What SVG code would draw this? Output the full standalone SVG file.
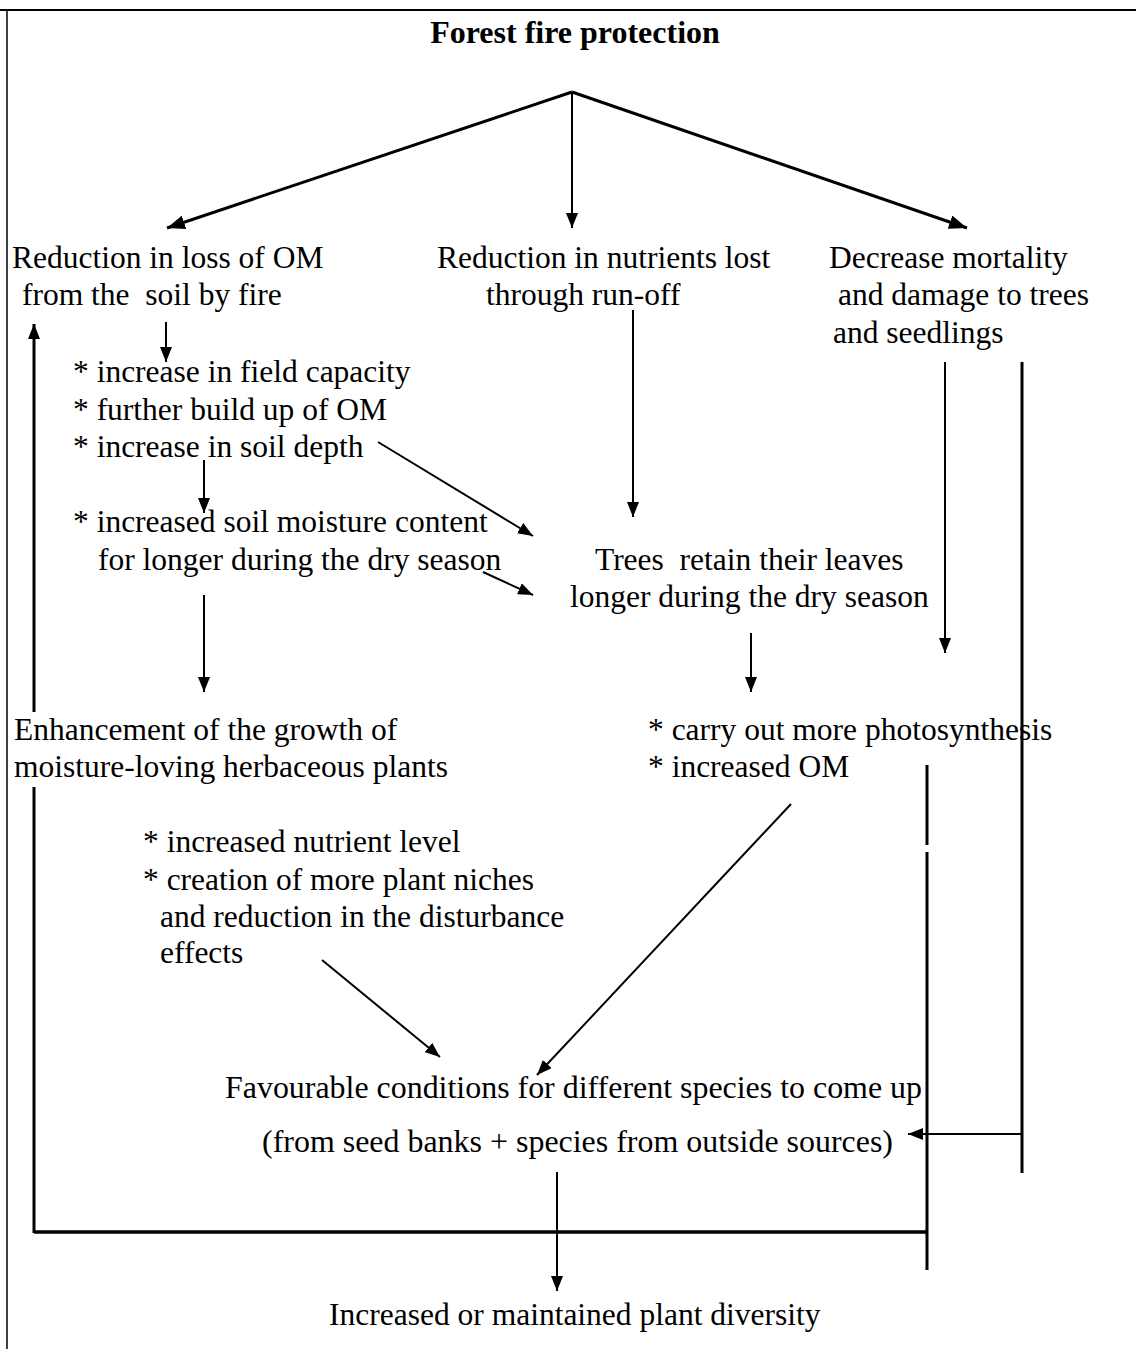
<svg xmlns="http://www.w3.org/2000/svg" width="1136" height="1349" viewBox="0 0 1136 1349">
<style>
text{font-family:"Liberation Serif","Times New Roman",serif;font-size:31.5px;fill:#000;white-space:pre}
.t{font-weight:bold;font-size:32px}
.c{stroke:#000;fill:none;stroke-width:2}
.w{stroke:#000;fill:none;stroke-width:3}
</style>
<defs>
<marker id="ah" markerUnits="userSpaceOnUse" markerWidth="16" markerHeight="12" refX="15" refY="6" orient="auto">
<path d="M0,0 L15,6 L0,12 z" fill="#000"/>
</marker>
<marker id="ahb" markerUnits="userSpaceOnUse" markerWidth="19" markerHeight="14" refX="18" refY="7" orient="auto">
<path d="M0,0 L18,7 L0,14 z" fill="#000"/>
</marker>
</defs>
<rect width="1136" height="1349" fill="#fff"/>
<g id="frame">
<line x1="0" y1="10" x2="1136" y2="10" stroke="#000" stroke-width="2"/>
<line x1="7" y1="10" x2="7" y2="1349" stroke="#000" stroke-width="1.5"/>
</g>
<g id="n-title"><text class="t" x="575" y="43" text-anchor="middle">Forest fire protection</text></g>
<g id="n-om"><text x="12" y="268">Reduction in loss of OM</text><text x="22" y="305" xml:space="preserve">from the  soil by fire</text></g>
<g id="n-nutrients"><text x="437" y="268">Reduction in nutrients lost</text><text x="486" y="305">through run-off</text></g>
<g id="n-mortality"><text x="829" y="268">Decrease mortality</text><text x="838" y="305">and damage to trees</text><text x="833" y="343">and seedlings</text></g>
<g id="n-soil"><text x="73" y="382">* increase in field capacity</text><text x="73" y="420">* further build up of OM</text><text x="73" y="457">* increase in soil depth</text></g>
<g id="n-moisture"><text x="73" y="532">* increased soil moisture content</text><text x="98" y="570">for longer during the dry season</text></g>
<g id="n-leaves"><text x="595" y="570" xml:space="preserve">Trees  retain their leaves</text><text x="570" y="607">longer during the dry season</text></g>
<g id="n-herb"><text x="14" y="740">Enhancement of the growth of</text><text x="14" y="777">moisture-loving herbaceous plants</text></g>
<g id="n-photo"><text x="648" y="740">* carry out more photosynthesis</text><text x="648" y="777">* increased OM</text></g>
<g id="n-niches"><text x="143" y="852">* increased nutrient level</text><text x="143" y="890">* creation of more plant niches</text><text x="160" y="927">and reduction in the disturbance</text><text x="160" y="963">effects</text></g>
<g id="n-favour"><text x="225" y="1098" textLength="697" lengthAdjust="spacingAndGlyphs">Favourable conditions for different species to come up</text><text x="262" y="1152" textLength="631" lengthAdjust="spacingAndGlyphs">(from seed banks + species from outside sources)</text></g>
<g id="n-diversity"><text x="329" y="1325">Increased or maintained plant diversity</text></g>
<g id="connectors">
<line class="w" x1="572" y1="92" x2="167" y2="228" marker-end="url(#ahb)"/>
<line class="c" x1="572" y1="92" x2="572" y2="228" marker-end="url(#ah)"/>
<line class="w" x1="572" y1="92" x2="967" y2="228" marker-end="url(#ahb)"/>
<line class="c" x1="166" y1="322" x2="166" y2="362" marker-end="url(#ah)"/>
<line class="c" x1="204" y1="460" x2="204" y2="513" marker-end="url(#ah)"/>
<line class="c" x1="378" y1="442" x2="533" y2="536" marker-end="url(#ah)"/>
<line class="c" x1="483" y1="572" x2="533" y2="595" marker-end="url(#ah)"/>
<line class="c" x1="633" y1="310" x2="633" y2="517" marker-end="url(#ah)"/>
<line class="c" x1="945" y1="362" x2="945" y2="653" marker-end="url(#ah)"/>
<line class="w" x1="1022" y1="362" x2="1022" y2="1173"/>
<line class="c" x1="204" y1="595" x2="204" y2="692" marker-end="url(#ah)"/>
<line class="c" x1="751" y1="633" x2="751" y2="692" marker-end="url(#ah)"/>
<line class="w" x1="927" y1="765" x2="927" y2="845"/>
<line class="w" x1="927" y1="852" x2="927" y2="1270"/>
<line class="c" x1="322" y1="960" x2="440" y2="1057" marker-end="url(#ah)"/>
<line class="c" x1="791" y1="804" x2="537" y2="1075" marker-end="url(#ah)"/>
<line class="c" x1="1022" y1="1134" x2="908" y2="1134" marker-end="url(#ah)"/>
<line class="c" x1="557" y1="1172" x2="557" y2="1291" marker-end="url(#ah)"/>
<line stroke="#000" stroke-width="3.5" x1="34" y1="1232" x2="928" y2="1232"/>
<line class="w" x1="34" y1="1233" x2="34" y2="787"/>
<line class="w" x1="34" y1="712" x2="34" y2="324" marker-end="url(#ah)"/>
</g>
</svg>
